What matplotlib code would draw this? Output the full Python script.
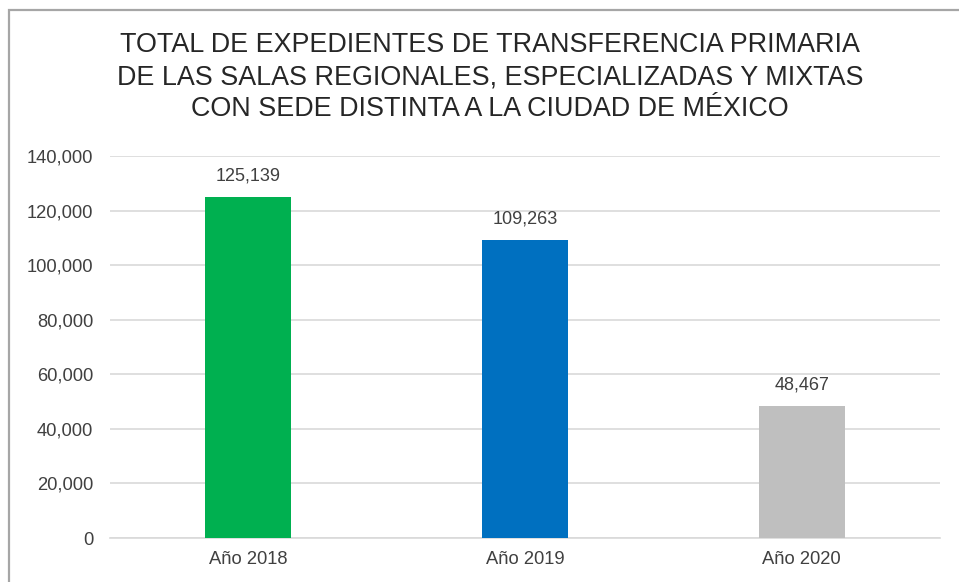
#!/usr/bin/env python3
"""Bar chart: expedientes de transferencia primaria por año."""

import matplotlib as mpl
import matplotlib.pyplot as plt
from matplotlib.patches import Rectangle
from matplotlib.ticker import FuncFormatter

CATEGORIES = ["Año 2018", "Año 2019", "Año 2020"]
VALUES = [125139, 109263, 48467]
BAR_COLORS = ["#00B050", "#0070C0", "#BFBFBF"]

TITLE = (
    "TOTAL DE EXPEDIENTES DE TRANSFERENCIA PRIMARIA\n"
    "DE LAS SALAS REGIONALES, ESPECIALIZADAS Y MIXTAS\n"
    "CON SEDE DISTINTA A LA CIUDAD DE MÉXICO"
)

TEXT = "#404040"
GRID = "#D9D9D9"


def main() -> None:
    mpl.rcParams.update({"font.family": ["Liberation Sans", "DejaVu Sans"]})

    fig = plt.figure(figsize=(9.59, 5.82), dpi=100)
    ax = fig.add_axes([0.1147, 0.0756, 0.8655, 0.6564])

    x = range(len(CATEGORIES))
    ax.bar(x, VALUES, width=0.31, color=BAR_COLORS, zorder=3)

    for i, v in enumerate(VALUES):
        ax.annotate(
            f"{v:,}",
            xy=(i, v),
            xytext=(0, 15),
            textcoords="offset points",
            ha="center",
            va="center",
            fontsize=13,
            color=TEXT,
        )

    ax.set_xlim(-0.5, len(CATEGORIES) - 0.5)
    ax.set_ylim(0, 140000)
    ax.set_yticks(range(0, 140001, 20000))
    ax.yaxis.set_major_formatter(FuncFormatter(lambda v, _: f"{int(v):,}"))
    ax.set_xticks(list(x))
    ax.set_xticklabels(CATEGORIES)

    ax.grid(axis="y", color=GRID, linewidth=1.2, zorder=0)
    for spine in ["top", "right", "left"]:
        ax.spines[spine].set_visible(False)
    ax.spines["bottom"].set_color(GRID)
    ax.spines["bottom"].set_linewidth(1.2)
    ax.tick_params(axis="both", length=0, labelsize=13.2, colors=TEXT)
    ax.tick_params(axis="y", pad=12)
    ax.tick_params(axis="x", pad=9)

    fig.text(
        0.511,
        1 - 77 / 582,
        TITLE,
        ha="center",
        va="center",
        fontsize=19.4,
        color="#262626",
        linespacing=1.3,
    )

    # chart frame, cropped at the right and bottom edges
    fig.patches.append(
        Rectangle(
            (9 / 959, -0.05),
            1.2,
            1.05 - 10 / 582,
            transform=fig.transFigure,
            fill=False,
            edgecolor="#A6A6A6",
            linewidth=1.6,
        )
    )

    fig.savefig("out.png", dpi=100)


if __name__ == "__main__":
    main()
